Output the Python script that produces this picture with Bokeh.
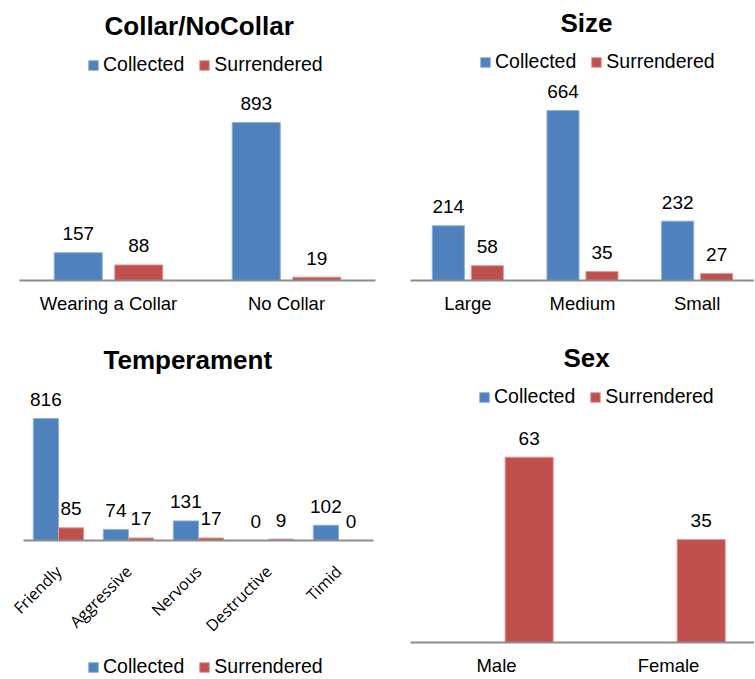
import math
from bokeh.plotting import figure
from bokeh.models import (ColumnDataSource, FactorRange, Range1d, Legend, LegendItem,
                          FixedTicker)
from bokeh.transform import dodge
from bokeh.layouts import column, row
from bokeh.core.properties import value
from bokeh.embed import file_html
from bokeh.resources import INLINE

# ---------------- data ----------------
series_names = ["Collected", "Surrendered"]

collar_cats = ["Wearing a Collar", "No Collar"]
collar_collected = [157, 893]
collar_surrendered = [88, 19]

size_cats = ["Large", "Medium", "Small"]
size_collected = [214, 664, 232]
size_surrendered = [58, 35, 27]

temp_cats = ["Friendly", "Aggressive", "Nervous", "Destructive", "Timid"]
temp_collected = [816, 74, 131, 0, 102]
temp_surrendered = [85, 17, 17, 9, 0]

sex_cats = ["Male", "Female"]
sex_collected = [0, 0]
sex_surrendered = [63, 35]

# ---------------- style ----------------
BLUE, BLUE_EDGE = "#4F81BD", "#8EB1DC"
RED, RED_EDGE = "#C0504D", "#E39A98"
FONT = "Liberation Sans"


def panel(title, cats, collected, surrendered, *, width, height, fl, fr, ft, fb,
          y_start, y_end, off, bw, title_offset, legend_loc,
          label_collected=True, rotate=False, standoff=12, x_pad=None):
    n = len(cats)
    src = ColumnDataSource(dict(
        cat=cats, pos=list(range(n)), c=collected, s=surrendered,
        cl=[str(v) for v in collected], sl=[str(v) for v in surrendered]))
    if x_pad is None:
        x_range = FactorRange(*cats)
        key = "cat"
    else:
        # numeric positions (one unit per category) so the frame can reach the edge
        x_range = Range1d(-0.5 - x_pad[0], n - 0.5 + x_pad[1])
        key = "pos"
    p = figure(x_range=x_range, y_range=Range1d(y_start, y_end),
               width=width, height=height, output_backend="svg",
               toolbar_location=None, title=title,
               min_border_left=fl, min_border_right=width - fr,
               min_border_top=ft, min_border_bottom=height - fb,
               outline_line_color=None, y_axis_location=None,
               background_fill_color="white", border_fill_color="white")
    p.title.align = "left"
    p.title.offset = title_offset
    p.title.text_font = FONT
    p.title.text_font_size = "26px"
    p.title.text_font_style = "bold"
    p.title.text_color = "black"

    xr = p.x_range if x_pad is None else None
    r1 = p.vbar(x=dodge(key, -off, range=xr), top="c", bottom=0, width=bw,
                source=src, fill_color=BLUE, line_color=BLUE_EDGE, line_width=1)
    r2 = p.vbar(x=dodge(key, off, range=xr), top="s", bottom=0, width=bw,
                source=src, fill_color=RED, line_color=RED_EDGE, line_width=1)
    if label_collected:
        p.text(x=dodge(key, -off, range=xr), y="c", text="cl", source=src,
               text_align="center", text_baseline="alphabetic", y_offset=-19,
               text_font=value(FONT), text_font_size="19px", text_color="black")
    p.text(x=dodge(key, off, range=xr), y="s", text="sl", source=src,
           text_align="center", text_baseline="alphabetic", y_offset=-19,
           text_font=value(FONT), text_font_size="19px", text_color="black")

    ax = p.xaxis[0]
    if x_pad is not None:
        ax.fixed_location = 0
        ax.ticker = FixedTicker(ticks=list(range(n)))
        ax.major_label_overrides = {i: c for i, c in enumerate(cats)}
        ax.bounds = (-0.5, n - 0.5)
        ax.minor_tick_line_color = None
    ax.axis_line_color = "#8C8C8C"
    ax.axis_line_width = 2
    ax.major_tick_line_color = None
    ax.major_tick_out = 0
    ax.major_tick_in = 0
    ax.major_label_standoff = standoff
    ax.major_label_text_color = "black"
    if rotate:
        ax.major_label_orientation = math.pi / 4
        ax.major_label_text_font = "Open Sans"
        ax.major_label_text_font_size = "16px"
    else:
        ax.major_label_text_font = FONT
        ax.major_label_text_font_size = "18.5px"
    p.xgrid.grid_line_color = None
    p.ygrid.grid_line_color = None

    legend = Legend(items=[LegendItem(label=series_names[0], renderers=[r1]),
                           LegendItem(label=series_names[1], renderers=[r2])],
                    orientation="horizontal", location=legend_loc,
                    glyph_width=12, glyph_height=12, label_standoff=4,
                    spacing=14, padding=0, margin=0,
                    border_line_color=None, background_fill_alpha=0,
                    label_text_font=FONT, label_text_font_size="19.5px",
                    label_text_color="black")
    p.add_layout(legend)
    return p


p1 = panel("Collar/NoCollar", collar_cats, collar_collected, collar_surrendered,
           width=378, height=330, fl=19, fr=375, ft=45, fb=280,
           y_start=0, y_end=1328,
           off=0.17, bw=0.27, title_offset=85, legend_loc=(68, 204))
p3 = panel("Temperament", temp_cats, temp_collected, temp_surrendered,
           width=378, height=348, fl=0, fr=378, ft=49, fb=348,
           y_start=-923, y_end=1077,
           off=0.18, bw=0.36, title_offset=103, legend_loc=(87, 0),
           rotate=True, standoff=28, x_pad=(23 / 70, 5 / 70))
p2 = panel("Size", size_cats, size_collected, size_surrendered,
           width=376, height=330, fl=32, fr=376, ft=42, fb=280,
           y_start=0, y_end=930,
           off=0.17, bw=0.28, title_offset=150, legend_loc=(69, 207))
p4 = panel("Sex", sex_cats, sex_collected, sex_surrendered,
           width=376, height=348, fl=32, fr=376, ft=47, fb=313,
           y_start=0, y_end=90.1,
           off=0.19, bw=0.28, title_offset=153, legend_loc=(68, 234),
           label_collected=False, standoff=12)

layout = row(column(row(p1), row(p3)), column(row(p2), row(p4)))
open("out.html", "w").write(file_html(layout, INLINE))
